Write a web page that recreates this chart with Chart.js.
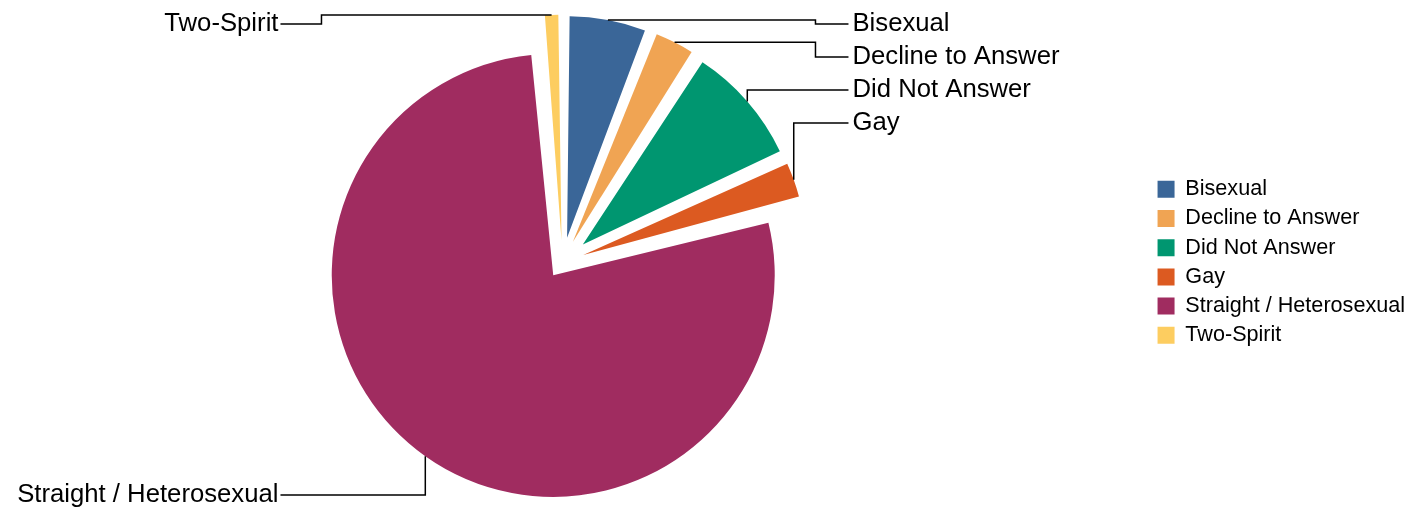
<!DOCTYPE html>
<html>
<head>
<meta charset="utf-8">
<script src="https://cdn.jsdelivr.net/npm/chart.js@4"></script>
<style>
  html, body { margin: 0; padding: 0; background: #fff; overflow: hidden; }
  #wrap { width: 1423px; height: 512px; overflow: hidden; }
  /* canvas is a bit wider and pulled left so the pie sits where it should */
  #pieChart { display: block; margin-left: -25px; }
</style>
</head>
<body>
<div id="wrap"><canvas id="pieChart" width="1448" height="512"></canvas></div>
<script>
const categories = ['Bisexual', 'Decline to Answer', 'Did Not Answer', 'Gay', 'Straight / Heterosexual', 'Two-Spirit'];
const shares = [5.9, 3.2, 9.0, 2.9, 77.6, 1.4];
const sliceColors = ['#3a6698', '#f0a453', '#009670', '#dc5a21', '#a02c60', '#fdcd60'];

const FONT = '"Liberation Sans", Arial, sans-serif';
// how far (px) each slice is pulled out; chart.js takes offset = 4 * that
const explodeBy = [25, 23, 27, 22, 16, 22];
const sliceOffsets = explodeBy.map(t => t * 4);

// labels with elbow leader lines
const calloutLabels = {
  id: 'calloutLabels',
  afterDatasetsDraw(chart) {
    const ctx = chart.ctx;
    const area = chart.chartArea;
    const meta = chart.getDatasetMeta(0);
    const right = [], left = [];
    let cx = 0, cy = 0;
    meta.data.forEach((arc, i) => {
      const p = arc.getProps(['x', 'y', 'startAngle', 'endAngle', 'outerRadius', 'circumference']);
      cx = p.x; cy = p.y;
      const mid = (p.startAngle + p.endAngle) / 2;
      const shift = arc.options.offset / 4;
      const fix = 1 - Math.sin(Math.min(Math.PI, p.circumference));
      const r = shift + p.outerRadius + shift * fix;
      const pt = { i, ax: p.x + Math.cos(mid) * r, ay: p.y + Math.sin(mid) * r };
      (Math.cos(mid) >= 0 ? right : left).push(pt);
    });

    ctx.save();
    ctx.strokeStyle = '#000';
    ctx.lineWidth = 1.5;
    ctx.fillStyle = '#000';
    ctx.font = '25.7px ' + FONT;
    ctx.textBaseline = 'middle';

    const drawLeader = (pt, ly, elbowX, endX) => {
      const dy = ly - pt.ay;
      ctx.beginPath();
      ctx.moveTo(pt.ax, pt.ay);
      if (dy >= 0 && dy <= 30) {
        ctx.lineTo(elbowX, pt.ay);
        ctx.lineTo(elbowX, ly);
      } else {
        ctx.lineTo(pt.ax, ly);
      }
      ctx.lineTo(endX, ly);
      ctx.stroke();
    };

    right.sort((a, b) => a.ay - b.ay);
    const textX = cx + 290;
    right.forEach((pt, k) => {
      const ly = area.top + 11.5 + k * 33;
      drawLeader(pt, ly, textX - 37, textX - 4);
      ctx.textAlign = 'left';
      ctx.fillText(categories[pt.i], textX, ly);
    });

    const textR = cx - 284;
    left.forEach(pt => {
      const ly = pt.ay < cy ? area.top + 11.5 : area.bottom - 17;
      drawLeader(pt, ly, textR + 43, textR + 2);
      ctx.textAlign = 'right';
      ctx.fillText(categories[pt.i], textR, ly);
    });
    ctx.restore();
  }
};

new Chart(document.getElementById('pieChart'), {
  type: 'pie',
  data: {
    labels: categories,
    datasets: [{
      data: shares,
      backgroundColor: sliceColors,
      borderWidth: 0,
      offset: sliceOffsets,
      radius: 205.5
    }]
  },
  options: {
    responsive: false,
    animation: false,
    layout: { padding: { top: 12.6, right: 8 } },
    plugins: {
      tooltip: { enabled: false },
      legend: {
        position: 'right',
        labels: {
          color: '#000',
          boxWidth: 17,
          boxHeight: 17,
          padding: 7.6,
          font: { size: 21.6, family: FONT }
        }
      }
    }
  },
  plugins: [calloutLabels]
});
</script>
</body>
</html>
